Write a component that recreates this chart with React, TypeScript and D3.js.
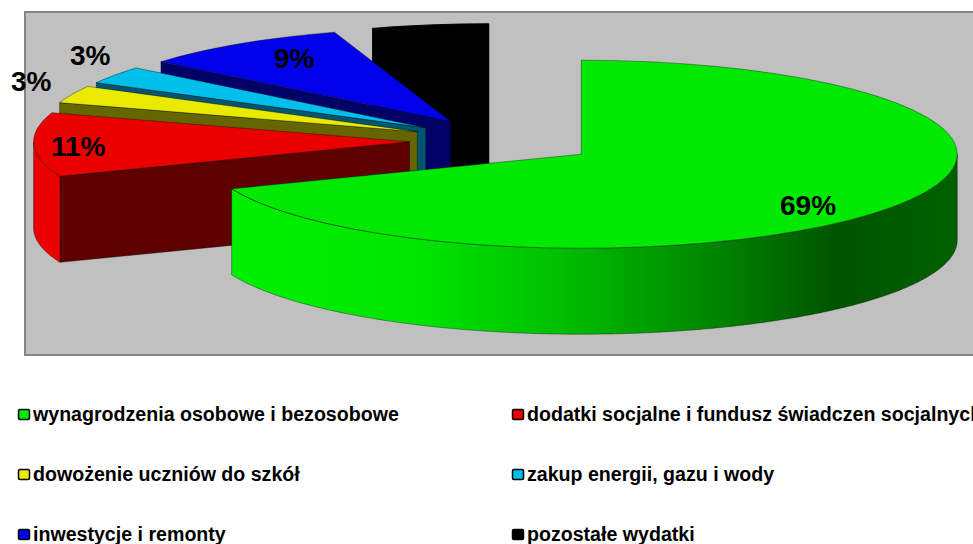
import * as d3 from 'd3'

const categories = [
  'wynagrodzenia osobowe i bezosobowe',
  'dodatki socjalne i fundusz świadczen socjalnych',
  'dowożenie uczniów do szkół',
  'zakup energii, gazu i wody',
  'inwestycje i remonty',
  'pozostałe wydatki',
]
const values = [69, 11, 3, 3, 9, 5]
const percentLabels = ['69%', '11%', '3%', '3%', '9%', '']

const topColors = ['#00e900', '#ea0000', '#eaea00', '#00bfea', '#0000ea', '#000000']
const faceColors = ['#005c00', '#5f0000', '#666600', '#00566f', '#000066', '#000000']

// chart geometry
const W = 973
const H = 544
const CX = 503.5
const CY = 141
const RX = 376
const RY = 94
const DEPTH = 86
const EXPLODE = 0.25

const labelPos: [number, number][] = [
  [780, 215], [51, 156], [11, 91], [70, 65], [274, 68], [0, 0],
]
const legendX = [18, 512]
const legendRows = [420, 480, 540]

const FONT = '"Liberation Sans", Arial, sans-serif'

const arcs = d3.pie<number>().sort(null).startAngle(0).endAngle(2 * Math.PI)(values)

const slices = arcs.map((a, i) => {
  const mid = (a.startAngle + a.endAngle) / 2
  const ax = CX + EXPLODE * RX * Math.sin(mid)
  const ay = CY - EXPLODE * RY * Math.cos(mid)
  const pt = (t: number, dy = 0): [number, number] => [
    ax + RX * Math.sin(t),
    ay - RY * Math.cos(t) + dy,
  ]
  return { i, a, ax, ay, pt }
})

const line = d3.line()
const topArc = d3.arc<d3.PieArcDatum<number>>().innerRadius(0).outerRadius(RX)

// visible outer wall between two angles
function rimPath(s: (typeof slices)[number], t0: number, t1: number) {
  const ts = d3.range(t0, t1, 0.01).concat([t1])
  const upper = ts.map(t => s.pt(t))
  const lower = ts.slice().reverse().map(t => s.pt(t, DEPTH))
  return line([...upper, ...lower]) + 'Z'
}

// cut wall running from the apex out to the slice's start angle
function facePath(s: (typeof slices)[number]) {
  const p = s.pt(s.a.startAngle)
  return line([[s.ax, s.ay], p, [p[0], p[1] + DEPTH], [s.ax, s.ay + DEPTH]]) + 'Z'
}

const drawOrder = [5, 4, 3, 2, 1, 0]

export default function App() {
  const green = slices[0]
  const red = slices[1]
  return (
    <svg width={W} height={H} style={{ position: 'absolute', left: 0, top: 0, background: '#fff' }}>
      <defs>
        <linearGradient id="greenRim" gradientUnits="userSpaceOnUse" x1={232} x2={957} y1={0} y2={0}>
          <stop offset="0" stopColor="#00f000" />
          <stop offset="0.25" stopColor="#00e600" />
          <stop offset="0.447" stopColor="#00c000" />
          <stop offset="0.64" stopColor="#008c00" />
          <stop offset="0.83" stopColor="#005500" />
          <stop offset="1" stopColor="#006000" />
        </linearGradient>
      </defs>

      <rect x={25} y={12} width={W} height={343} fill="#c0c0c0" stroke="#858585" strokeWidth={2} />

      {drawOrder.map(i => {
        const s = slices[i]
        const edge = i === 5
          ? { stroke: '#000', strokeWidth: 1 }
          : { stroke: '#000', strokeOpacity: 0.45, strokeWidth: 0.8 }
        return (
          <g key={categories[i]}>
            {i === 0 ? (
              <path
                d={rimPath(green, Math.PI / 2, green.a.endAngle)}
                fill="url(#greenRim)"
                {...edge}
              />
            ) : (
              <path d={facePath(s)} fill={faceColors[i]} {...edge} />
            )}
            {i === 1 && (
              <path
                d={rimPath(red, red.a.startAngle, (3 * Math.PI) / 2)}
                fill={topColors[1]}
                {...edge}
              />
            )}
            <path
              d={topArc(s.a) ?? ''}
              transform={`translate(${s.ax},${s.ay}) scale(1,${RY / RX})`}
              fill={topColors[i]}
              {...edge}
              vectorEffect="non-scaling-stroke"
            />
          </g>
        )
      })}

      {percentLabels.map((t, i) =>
        t ? (
          <text
            key={i}
            x={labelPos[i][0]}
            y={labelPos[i][1]}
            fontFamily={FONT}
            fontWeight={700}
            fontSize={28}
            fill="#000"
          >
            {t}
          </text>
        ) : null,
      )}

      {categories.map((c, i) => {
        const x = legendX[i % 2]
        const y = legendRows[Math.floor(i / 2)]
        return (
          <g key={c}>
            <rect
              x={x + 0.5}
              y={y - 10.5}
              width={11}
              height={10}
              rx={1.5}
              fill={topColors[i]}
              stroke="#000"
              strokeWidth={1.5}
            />
            <text x={x + 15} y={y + 1} fontFamily={FONT} fontWeight={700} fontSize={19.6} fill="#000">
              {c}
            </text>
          </g>
        )
      })}
    </svg>
  )
}
